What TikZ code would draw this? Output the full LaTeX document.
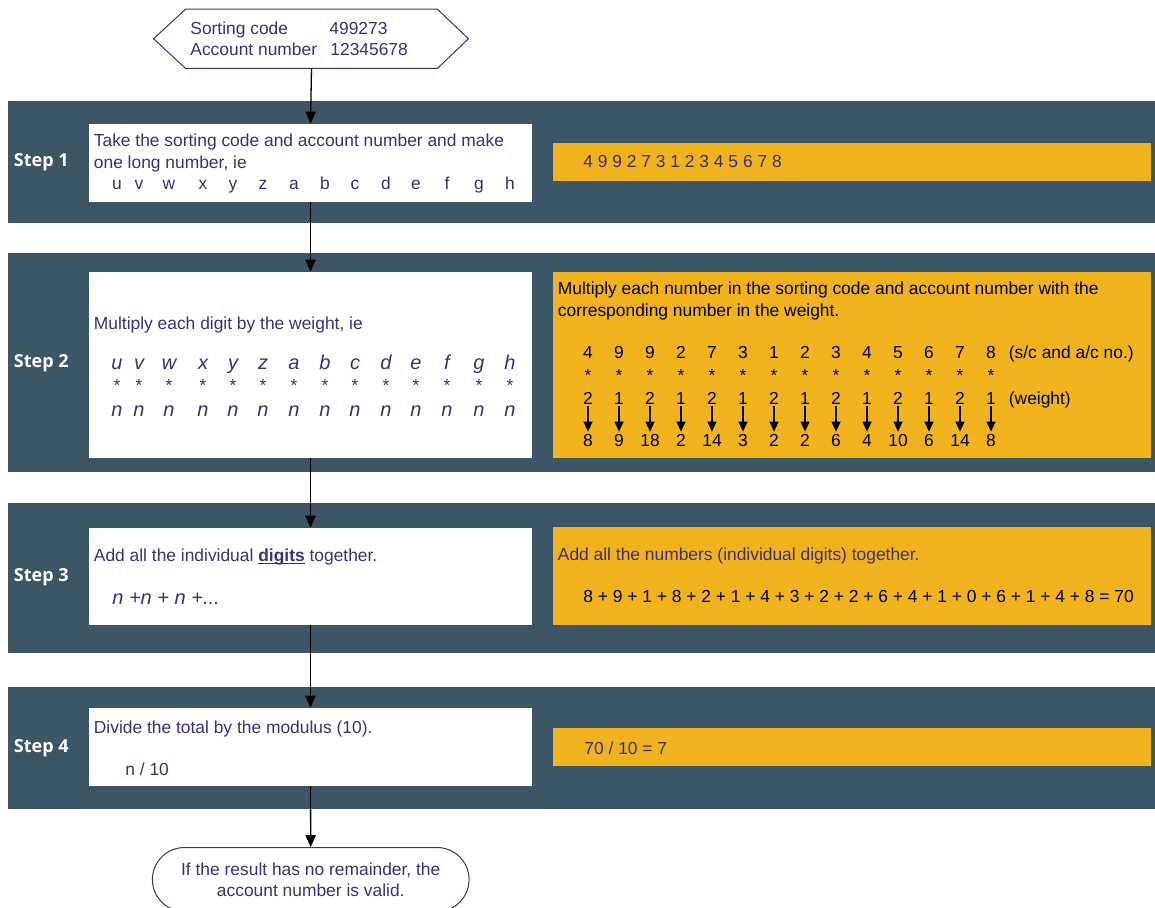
\documentclass[tikz,border=0pt]{standalone}
\usepackage{fontspec}
\setmainfont{Liberation Sans}
\newfontfamily\stepfont{Open Sans}
\usepackage{tikz}
\usetikzlibrary{arrows.meta,fit,calc,shapes.misc}
\definecolor{band}{HTML}{3C5665}
\definecolor{amber}{HTML}{F0B31E}
\definecolor{ink}{HTML}{3F2F78}
\newcommand\boldline[1]{\setbox0\hbox{\textbf{#1}}\rlap{\rule[-1.4pt]{\wd0}{0.7pt}}\box0{}}

\begin{document}
\begin{tikzpicture}[x=0.5pt,y=-0.5pt,
	font=\fontsize{8.7}{11.5}\selectfont,
	whitebox/.style={fill=white,draw=none,inner sep=0pt},
	amberbox/.style={fill=amber,draw=none,inner sep=0pt},
	txt/.style={anchor=west,inner sep=0pt,text=ink,text height=7.2pt,text depth=0.8pt},
	digit/.style={txt,anchor=center,text=black},
	steplabel/.style={anchor=west,inner sep=0pt,text=white,font=\stepfont\bfseries\fontsize{9}{11}\selectfont},
	flow/.style={draw,line width=0.65pt,-{Triangle[width=5.2pt,length=6pt]}},
	tick/.style={draw,line width=0.65pt,-{Triangle[width=4.5pt,length=5pt]}}]

	\fill[white] (0,0) rectangle (1155,907);
	\useasboundingbox (0,0) rectangle (1155,907);

	\fill[band] (8,101) rectangle (1160,222.5);
	\fill[band] (8,253) rectangle (1160,471.5);
	\fill[band] (8,503) rectangle (1160,653);
	\fill[band] (8,687) rectangle (1160,808.5);

	\node[inner sep=0pt,fit={(186,9.5) (437,68)}] (start) {};
	\draw[ink,line width=0.5pt] (start.north west) -- (start.north east) -- ($(start.east)+(31,0)$) -- (start.south east) -- (start.south west) -- ($(start.west)+(-32,0)$) -- cycle;
	\node[txt] (sc) at (190,28) {Sorting code};
	\node[txt] (scval) at (329,28) {499273};
	\node[txt] (an) at (190,49) {Account number};
	\node[txt] (anval) at (330,49) {12345678};

	\node[steplabel] (step1) at (13.5,162) {Step 1};
	\node[steplabel] (step2) at (13.5,363) {Step 2};
	\node[steplabel] (step3) at (13.5,577) {Step 3};
	\node[steplabel] (step4) at (13.5,748) {Step 4};

	\node[whitebox,fit={(89,124) (532,202)}] (box1) {};
	\node[amberbox,fit={(553,143) (1151,180.5)}] (num1) {};
	\node[whitebox,fit={(89,272) (532,458)}] (box2) {};
	\node[amberbox,fit={(553,272) (1151,458)}] (num2) {};
	\node[whitebox,fit={(89,528) (532,625)}] (box3) {};
	\node[amberbox,fit={(553,527) (1151,625)}] (num3) {};
	\node[whitebox,fit={(89,708) (532,786)}] (box4) {};
	\node[amberbox,fit={(553,728) (1151,766)}] (num4) {};

	\node[txt] (take) at (93.5,140) {Take the sorting code and account number and make};
	\node[txt] (long) at (93.5,162) {one long number, ie};
	\node[txt] (whole) at (583,161) {4 9 9 2 7 3 1 2 3 4 5 6 7 8};

	\node[txt] (mult) at (93.5,323) {Multiply each digit by the weight, ie};
	\foreach \ch/\px in {u/117,v/139,w/169,x/203,y/233,z/263,a/294,b/325,c/355,d/386,e/416,f/447,g/479,h/510} {
		\node[txt,anchor=center] (up\ch) at (\px,183) {\ch};
		\node[txt,anchor=center,font=\itshape] (it\ch) at (\px,363) {\ch};
		\node[txt,anchor=center] (star\ch) at (\px,385) {*};
		\node[txt,anchor=center,font=\itshape] (n\ch) at (\px,410) {n};
	}

	\node[txt,text=black] (multa) at (557.5,288) {Multiply each number in the sorting code and account number with the};
	\node[txt,text=black] (multb) at (557.5,310) {corresponding number in the weight.};
	\foreach \d/\w/\r [count=\i] in {4/2/8,9/1/9,9/2/18,2/1/2,7/2/14,3/1/3,1/2/2,2/1/2,3/2/6,4/1/4,5/2/10,6/1/6,7/2/14,8/1/8} {
		\node[digit] (d\i) at ({557+31*\i},352) {\d};
		\node[digit] (s\i) at ({557+31*\i},375) {*};
		\node[digit] (w\i) at ({557+31*\i},398) {\w};
		\node[digit] (r\i) at ({557+31*\i},440) {\r};
		\draw[tick] (w\i) -- (r\i);
	}
	\node[txt,text=black] (scac) at (1008.5,352) {(s/c and a/c no.)};
	\node[txt,text=black] (wgt) at (1008.5,398) {(weight)};

	\node[txt] (add) at (93.5,555) {Add all the individual \boldline{digits} together.};
	\node[txt,font=\itshape] (nsum) at (112,598) {n +n + n +...};
	\node[txt] (adda) at (557.5,554) {Add all the numbers (individual digits) together.};
	\node[txt,text=black] (total) at (583,596) {8 + 9 + 1 + 8 + 2 + 1 + 4 + 3 + 2 + 2 + 6 + 4 + 1 + 0 + 6 + 1 + 4 + 8 = 70};

	\node[txt] (divide) at (93.5,727) {Divide the total by the modulus (10).};
	\node[txt] (ndiv) at (125,769) {n / 10};
	\node[txt] (res) at (584,748) {70 / 10 = 7};

	\node[draw=ink,line width=0.5pt,rounded rectangle,minimum width=165pt,minimum height=32pt,align=center,text=ink,font=\fontsize{8.7}{10.5}\selectfont] (finish) at (310.75,879.5) {If the result has no remainder, the\\account number is valid.};

	\draw[flow] (start.south) -- (box1.north);
	\draw[flow] (box1.south) -- (box2.north);
	\draw[flow] (box2.south) -- (box3.north);
	\draw[flow] (box3.south) -- (box4.north);
	\draw[flow] (box4.south) -- (finish.north);
\end{tikzpicture}
\end{document}
